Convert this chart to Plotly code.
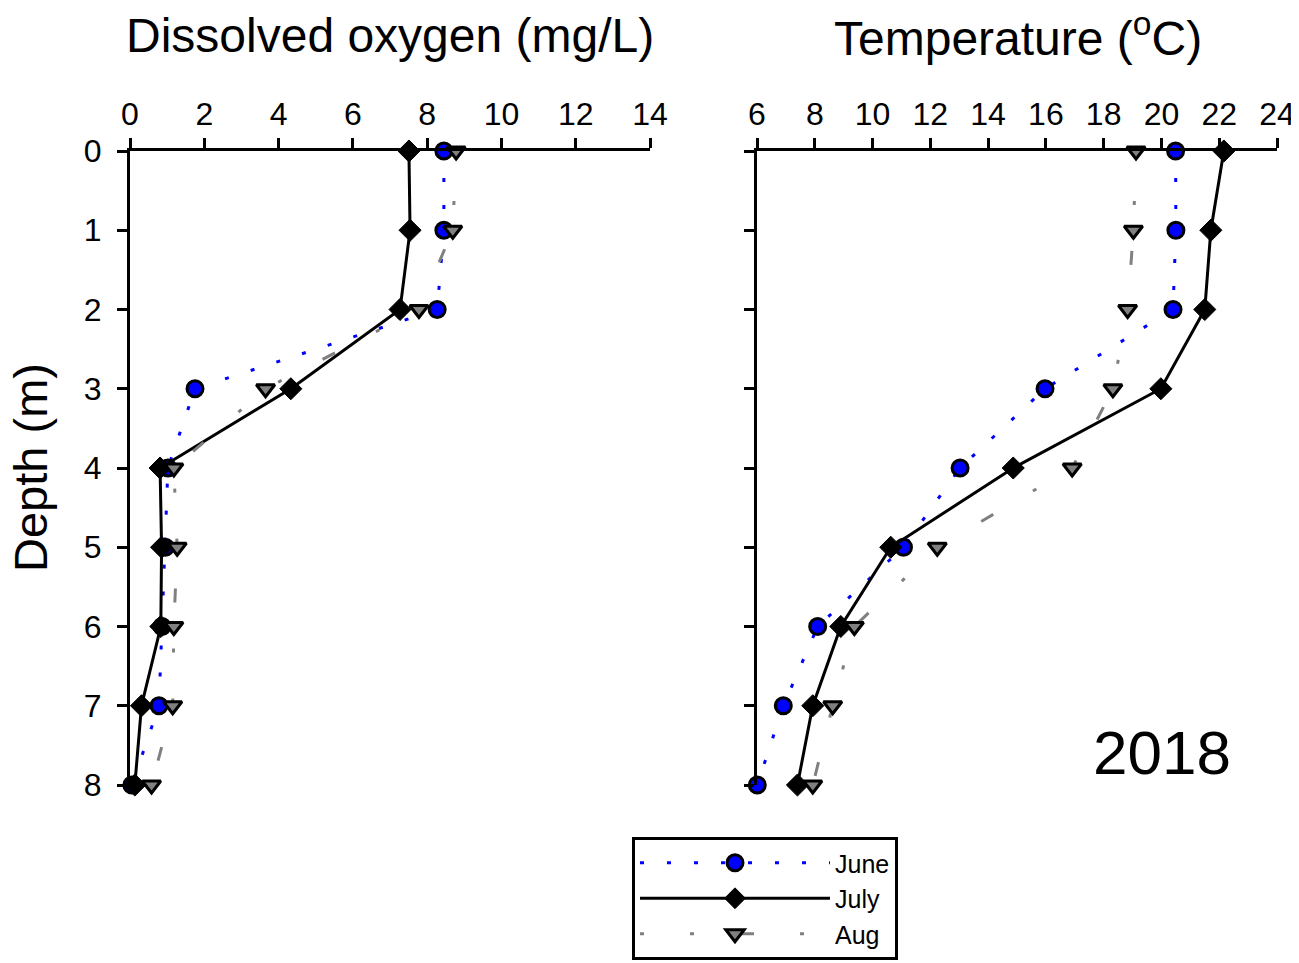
import plotly.graph_objects as go

depth = [0, 1, 2, 3, 4, 5, 6, 7, 8]
months = ["June", "July", "Aug"]

do_june = [8.45, 8.45, 8.27, 1.75, 1.02, 0.95, 0.86, 0.78, 0.05]
do_july = [7.51, 7.54, 7.27, 4.33, 0.81, 0.85, 0.83, 0.31, 0.13]
do_aug = [8.78, 8.69, 7.78, 3.65, 1.18, 1.27, 1.18, 1.15, 0.58]

temp_june = [20.49, 20.5, 20.4, 15.97, 13.03, 11.07, 8.1, 6.91, 6.01]
temp_july = [22.16, 21.71, 21.5, 19.98, 14.87, 10.63, 8.9, 7.93, 7.4]
temp_aug = [19.12, 19.03, 18.83, 18.32, 16.91, 12.24, 9.37, 8.62, 7.93]

do_ticks = [0, 2, 4, 6, 8, 10, 12, 14]
temp_ticks = [6, 8, 10, 12, 14, 16, 18, 20, 22, 24]

FONT = "Arial, Liberation Sans, sans-serif"
OFF = 8  # page body margin in the browser
W, H = 1299 - OFF, 963 - OFF

styles = {
    "June": dict(line=dict(color="#0000ff", width=3, dash="4px,23px"),
                 marker=dict(symbol="circle", size=16, color="#0000ff",
                             line=dict(color="black", width=3))),
    "July": dict(line=dict(color="black", width=3),
                 marker=dict(symbol="diamond", size=17, color="black",
                             line=dict(color="black", width=1))),
    "Aug": dict(line=dict(color="#808080", width=3, dash="4px,46px,4px,46px,14px,46px"),
                marker=dict(symbol="triangle-down", size=16, color="#808080",
                            line=dict(color="black", width=3))),
}

fig = go.Figure()
for name, vals in zip(months, [do_june, do_july, do_aug]):
    fig.add_trace(go.Scatter(x=vals, y=depth, mode="lines+markers", name=name,
                             xaxis="x", yaxis="y", cliponaxis=False,
                             legendgroup=name, **styles[name]))
for name, vals in zip(months, [temp_june, temp_july, temp_aug]):
    fig.add_trace(go.Scatter(x=vals, y=depth, mode="lines+markers", name=name,
                             xaxis="x2", yaxis="y2", cliponaxis=False,
                             legendgroup=name, showlegend=False, **styles[name]))

def px_x(p):
    return (p - OFF) / W

def px_y(p):
    return 1 - (p - OFF) / H

axis_common = dict(showline=True, linecolor="black", linewidth=3, ticks="outside",
                   ticklen=10, tickwidth=3, tickcolor="black", showgrid=False,
                   zeroline=False, tickfont=dict(family=FONT, size=32, color="black"))

def label(text, x, y, size, angle=0):
    return dict(text=text, x=px_x(x), y=px_y(y), xref="paper", yref="paper",
                xanchor="center", yanchor="middle", showarrow=False, textangle=angle,
                font=dict(family=FONT, size=size, color="black"))

fig.update_layout(
    width=W, height=H, autosize=False,
    margin=dict(l=0, r=0, t=0, b=0, autoexpand=False),
    paper_bgcolor="white", plot_bgcolor="white",
    font=dict(family=FONT, color="black"),
    xaxis=dict(domain=[px_x(130), px_x(650)], range=[0, 14], side="top",
               tickvals=do_ticks, anchor="y", **axis_common),
    yaxis=dict(domain=[px_y(785), px_y(151)], range=[8, 0], dtick=1,
               anchor="x", ticklabelstandoff=9, **axis_common),
    xaxis2=dict(domain=[px_x(757), px_x(1277)], range=[6, 24], side="top",
                tickvals=temp_ticks, anchor="y2", **axis_common),
    yaxis2=dict(domain=[px_y(785), px_y(151)], range=[8, 0], dtick=1,
                anchor="x2", showticklabels=False,
                **{k: v for k, v in axis_common.items() if k != "tickfont"}),
    legend=dict(x=px_x(632), y=px_y(837), xanchor="left", yanchor="top",
                bordercolor="black", borderwidth=3, bgcolor="white",
                font=dict(family=FONT, size=25, color="black"),
                itemwidth=190, tracegroupgap=0),
    annotations=[
        label("Dissolved oxygen (mg/L)", 390, 35, 48),
        label("Temperature (<sup>o</sup>C)", 1018, 35, 48),
        label("Depth (m)", 30, 468, 47, -90),
        label("2018", 1162, 752, 62),
    ],
)

fig.write_html("out.html")
